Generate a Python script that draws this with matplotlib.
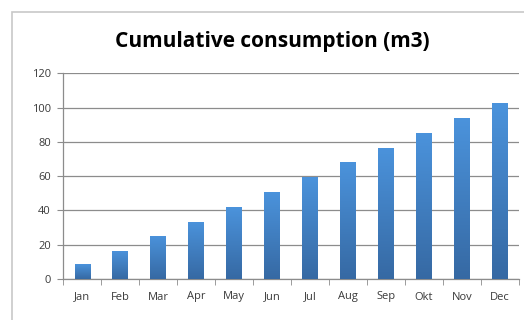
import numpy as np
import matplotlib.pyplot as plt
from matplotlib.patches import Rectangle
from matplotlib.colors import LinearSegmentedColormap

# Data
months = ['Jan', 'Feb', 'Mar', 'Apr', 'May', 'Jun', 'Jul', 'Aug', 'Sep', 'Okt', 'Nov', 'Dec']
consumption = [8.6, 16.5, 25.1, 33.5, 42.0, 50.5, 59.3, 68.0, 76.6, 85.2, 93.7, 102.4]
yticks = [0, 20, 40, 60, 80, 100, 120]

plt.rcParams['font.family'] = ['Open Sans', 'DejaVu Sans']

fig = plt.figure(figsize=(5.24, 3.2), dpi=100)
fig.patch.set_facecolor('white')

# outer chart frame (cut off on right and bottom)
frame = Rectangle((12 / 524, -0.05), 1.0, 1 - 12 / 320 + 0.05,
                  transform=fig.transFigure, fill=False,
                  edgecolor='#c8c8c8', linewidth=1.2)
fig.patches.append(frame)

ax = fig.add_axes([63.3 / 524, 1 - 279 / 320, (519 - 63.3) / 524, (279 - 73.3) / 320])

x = np.arange(len(months))
bars = ax.bar(x, consumption, width=0.41, color='#4a8fd6', zorder=3)

# vertical gradient on the bars
cmap = LinearSegmentedColormap.from_list('bargrad', ['#3669a3', '#4b93dc'])
grad = np.linspace(0, 1, 256).reshape(-1, 1)
for b in bars:
    x0, y0 = b.get_x(), b.get_y()
    w, h = b.get_width(), b.get_height()
    im = ax.imshow(grad, cmap=cmap, aspect='auto', origin='lower',
                   extent=(x0, x0 + w, y0, y0 + h), zorder=3)
    im.set_clip_path(b)
    b.set_facecolor('none')
    b.set_edgecolor('none')

ax.set_xlim(-0.5, len(months) - 0.5)
ax.set_ylim(0, 120)
ax.set_yticks(yticks)
ax.set_xticks(x)
ax.set_xticklabels(months)
ax.set_xticks(np.arange(-0.5, len(months)), minor=True)

ax.grid(axis='y', color='#8c8c8c', linewidth=0.9, zorder=0)
for s in ['top', 'right']:
    ax.spines[s].set_visible(False)
for s in ['left', 'bottom']:
    ax.spines[s].set_color('#8c8c8c')
    ax.spines[s].set_linewidth(0.9)

ax.tick_params(axis='y', length=4, color='#8c8c8c', labelsize=8, labelcolor='#3a3a3a', pad=5)
ax.tick_params(axis='x', which='major', length=0, labelsize=8, labelcolor='#3a3a3a', pad=9)
ax.tick_params(axis='x', which='minor', length=4, color='#8c8c8c')

fig.text(272 / 524, 1 - 41 / 320, 'Cumulative consumption (m3)', ha='center', va='center',
         fontsize=15, fontweight='bold', color='black')

plt.savefig('out.png', dpi=100)
plt.close()
